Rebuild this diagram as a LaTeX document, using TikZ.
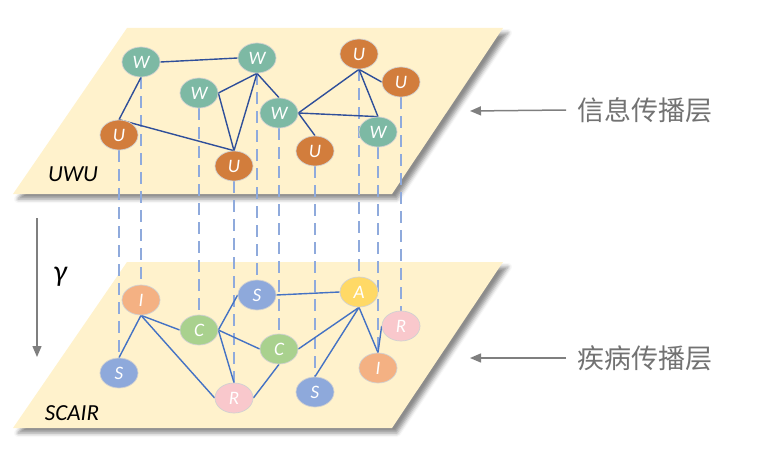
\documentclass[tikz,border=0pt]{standalone}
\usepackage{fontspec}
\usepackage{amsmath}
\usepackage{tikz}
\usetikzlibrary{positioning, arrows.meta, shapes.geometric, shadows.blur}
\setmainfont{Carlito}
\newfontfamily\cjk{Noto Sans CJK SC}
\definecolor{plane}{HTML}{FFF2CC}
\definecolor{wcol}{HTML}{7DB9A4}
\definecolor{ucol}{HTML}{D27D3C}
\definecolor{scol}{HTML}{8EA9DB}
\definecolor{icol}{HTML}{F4B183}
\definecolor{ccol}{HTML}{A9D18E}
\definecolor{rcol}{HTML}{F9C8CC}
\definecolor{acol}{HTML}{FFD966}
\definecolor{upedge}{HTML}{2F4F9A}
\definecolor{lowedge}{HTML}{4472C4}
\definecolor{vdash}{HTML}{8FAADC}
\definecolor{note}{HTML}{7F7F7F}
\pgfdeclarelayer{planes}
\pgfdeclarelayer{links}
\pgfsetlayers{planes,links,main}

\begin{document}
\begin{tikzpicture}[x=1pt, y=-1pt,
    agent/.style={ellipse, draw=black!18, line width=0.7pt, text=white,
      minimum width=38pt, minimum height=30pt, inner sep=0pt,
      font=\fontsize{19}{21}\selectfont\itshape},
    layer/.style={fill=plane, draw=none,
      blur shadow={shadow xshift=5pt, shadow yshift=-5pt,
        shadow blur radius=4pt, shadow opacity=45}},
    uplink/.style={upedge, line width=1.4pt},
    lowlink/.style={lowedge, line width=1.4pt},
    vlink/.style={vdash, line width=1.4pt, dash pattern=on 12pt off 7pt},
    pointer/.style={note, line width=1.5pt, -{Triangle[length=11pt,width=9pt]}},
    tag/.style={font=\fontsize{23}{26}\selectfont\itshape, text=black},
    layername/.style={font=\cjk\fontsize{27}{30}\selectfont, text=note!90!black, anchor=west}]
  \useasboundingbox (0,0) rectangle (771,452);

  % the two planes
  \begin{pgfonlayer}{planes}
    \path[layer] (127,28) -- (503,28) -- (392,194) -- (13,194) -- cycle;
    \path[layer] (127,262) -- (503,262) -- (392,428) -- (13,428) -- cycle;
  \end{pgfonlayer}
  \node[tag] (uwu) at (73,174) {UWU};
  \node[tag] (scair) at (72,413) {SCAIR};

  % information layer
  \node[agent, fill=wcol] (w1) at (141,62) {W};
  \node[agent, fill=wcol] (w2) at (257,58) {W};
  \node[agent, fill=wcol] (w3) at (199,93) {W};
  \node[agent, fill=wcol] (w4) at (279,113) {W};
  \node[agent, fill=wcol] (w5) at (378,132) {W};
  \node[agent, fill=ucol] (u1) at (119,135) {U};
  \node[agent, fill=ucol] (u2) at (234,166) {U};
  \node[agent, fill=ucol] (u3) at (315,151) {U};
  \node[agent, fill=ucol] (u4) at (359,54) {U};
  \node[agent, fill=ucol] (u5) at (401,82) {U};

  % disease layer
  \node[agent, fill=icol] (i1) at (141,300) {I};
  \node[agent, fill=scol] (s1) at (119,373) {S};
  \node[agent, fill=ccol] (c1) at (199,330) {C};
  \node[agent, fill=scol] (s2) at (257,295) {S};
  \node[agent, fill=rcol] (r1) at (234,398) {R};
  \node[agent, fill=ccol] (c2) at (279,349) {C};
  \node[agent, fill=acol] (a1) at (359,292) {A};
  \node[agent, fill=scol] (s3) at (315,392) {S};
  \node[agent, fill=icol] (i2) at (378,368) {I};
  \node[agent, fill=rcol] (r2) at (401,326) {R};

  \begin{pgfonlayer}{links}
    \foreach \a/\b in {u1/s1, w1/i1, w3/c1, u2/r1, w2/s2,
                       w4/c2, u3/s3, u4/a1, w5/i2, u5/r2}
      \draw[vlink] (\a.south) -- (\b.north);
    \foreach \a/\b in {w1.east/w2.west, w1.south/u1.north, u1.north/u2.north,
                       w2.south/u2.north, w3.east/u2.north, w3.east/w2.south,
                       w2.south/w4.north, w4.east/u4.south, w4.east/w5.north,
                       w4.east/u3.north, u4.south/u5.west, u4.south/w5.north}
      \draw[uplink] (\a) -- (\b);
    \foreach \a/\b in {i1.south/s1.north, i1.south/c1.west, i1.south/r1.west,
                       c1.east/s2.west, c1.east/c2.west, c1.east/r1.north,
                       r1.east/c2.south, s2.east/a1.west, a1.south/c2.east,
                       a1.south/s3.north, a1.south/i2.north, i2.north/r2.west}
      \draw[lowlink] (\a) -- (\b);
  \end{pgfonlayer}

  % side notes
  \coordinate (gtop) at (37,218);
  \coordinate (gbot) at (37,357);
  \draw[pointer] (gtop) -- (gbot);
  \node[font=\fontsize{30}{32}\selectfont\itshape] (gam) at (60,277) {γ};

  \node[layername] (info) at (574,110) {信息传播层};
  \node[layername] (dis) at (574,358) {疾病传播层};
  \coordinate (infotip) at (470,111);
  \coordinate (distip) at (470,358);
  \draw[pointer] ([xshift=-8pt]info.west) -- (infotip);
  \draw[pointer] ([xshift=-8pt]dis.west) -- (distip);
\end{tikzpicture}
\end{document}
